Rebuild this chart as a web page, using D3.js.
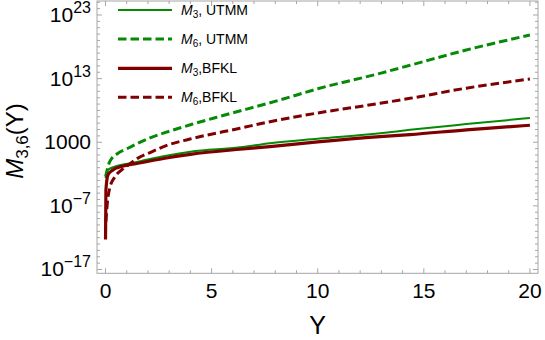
<!DOCTYPE html>
<html><head><meta charset="utf-8">
<script src="https://cdn.jsdelivr.net/npm/d3@7/dist/d3.min.js"></script>
<style>body{margin:0;background:#fff}svg{display:block;font-family:"Liberation Sans",Arial,sans-serif}</style>
</head><body><svg id="c" width="545" height="340"></svg>
<script>
// Y values (rapidity) and log10 of the moments
const yM3UTMM = [0.003, 0.12, 0.43, 0.9, 1.53, 2.8, 4.0, 6.34, 7.75, 10.0, 12.94, 14.35, 17.0, 20];
const lM3UTMM = [-2.65, -1.35, -0.83, -0.45, -0.05, 0.85, 1.5, 2.2, 2.85, 3.55, 4.41, 4.95, 5.85, 6.81];
const yM6UTMM = [0.003, 0.2, 0.59, 1.06, 1.53, 2.1, 2.8, 4.0, 5.54, 8.22, 10.0, 12.94, 14.35, 17.0, 20];
const lM6UTMM = [-2.4, -0.05, 1.27, 2.06, 2.84, 3.7, 4.5, 5.75, 7.2, 9.64, 11.4, 13.83, 15.1, 17.5, 19.85];
const yM3BFKL = [0.002, 0.02, 0.12, 0.35, 0.74, 1.53, 2.8, 4.0, 6.34, 7.75, 10.0, 12.94, 14.35, 17.0, 20];
const lM3BFKL = [-12.3, -4.5, -2.13, -1.35, -0.83, -0.3, 0.49, 1.1, 1.9, 2.3, 3.05, 3.88, 4.2, 4.95, 5.67];
const yM6BFKL = [0.02, 0.085, 0.2, 0.43, 0.82, 1.0, 1.53, 2.18, 2.8, 3.98, 6.34, 7.75, 10.0, 12.94, 14.35, 17.0, 20];
const lM6BFKL = [-9.5, -6.6, -4.2, -2.5, -1.2, -0.75, 0.5, 1.5, 2.4, 3.5, 5.2, 6.23, 7.6, 9.12, 9.9, 11.5, 12.94];
const xTicks = [0, 5, 10, 15, 20];
const yTickExps = [-17, -7, 3, 13, 23];
const seriesNames = ["UTMM", "UTMM", "BFKL", "BFKL"];
const seriesSubs = ["3", "6", "3", "6"];

const svg = d3.select("#c");
const L = 97, R = 538, T = 1, B = 273.3;
const x = d3.scaleLinear().domain([-0.4, 20.38]).range([L, R]);
const y = d3.scaleLog().domain([Math.pow(10, -17.6), Math.pow(10, 25.2)]).range([B, T]);

const green = "#058a05", red = "#7f0000", frameC = "#a6a6a6";

// frame
svg.append("rect").attr("x", L).attr("y", T).attr("width", R - L).attr("height", B - T)
  .attr("fill", "none").attr("stroke", frameC).attr("stroke-width", 1);

// x ticks (bottom & top)
const g = svg.append("g").attr("stroke", frameC).attr("stroke-width", 1);
for (let v = 0; v <= 20; v++) {
  const len = v % 5 === 0 ? 5 : 3;
  const px = x(v);
  g.append("line").attr("x1", px).attr("x2", px).attr("y1", B).attr("y2", B - len);
  g.append("line").attr("x1", px).attr("x2", px).attr("y1", T).attr("y2", T + len);
}
// y ticks (left & right), minor every decade
for (let e = -17; e <= 25; e++) {
  const major = (e + 17) % 10 === 0;
  const len = major ? 5 : 3;
  const py = y(Math.pow(10, e));
  if (py < T || py > B) continue;
  g.append("line").attr("y1", py).attr("y2", py).attr("x1", L).attr("x2", L + len);
  g.append("line").attr("y1", py).attr("y2", py).attr("x1", R).attr("x2", R - len);
}

// x tick labels
svg.append("g").selectAll("text").data(xTicks).join("text")
  .attr("x", d => x(d)).attr("y", 298).attr("text-anchor", "middle")
  .attr("font-size", 21).attr("fill", "#000").text(d => d);

// y tick labels
yTickExps.forEach(e => {
  const py = y(Math.pow(10, e)) + 7;
  const t = svg.append("text").attr("x", 91).attr("y", py).attr("text-anchor", "end")
    .attr("font-size", 21).attr("fill", "#000");
  if (e === 3) { t.text("1000"); return; }
  t.append("tspan").text("10");
  t.append("tspan").attr("dy", -9).attr("font-size", 16).text(e < 0 ? "\u2212" + (-e) : e);
});

// axis titles
svg.append("text").attr("x", x(10)).attr("y", 334).attr("text-anchor", "middle")
  .attr("font-size", 25).text("Y");
const yt = svg.append("text").attr("transform", "translate(23,141) rotate(-90)")
  .attr("text-anchor", "middle").attr("font-size", 24);
yt.append("tspan").attr("font-style", "italic").text("M");
yt.append("tspan").attr("font-size", 17).attr("dy", 5).text("3,6");
yt.append("tspan").attr("dy", -5).text("(Y)");

// curves
const line = d3.line().x(d => x(d[0])).y(d => y(Math.pow(10, d[1]))).curve(d3.curveMonotoneX);
const series = [
  { ys: yM3UTMM, ls: lM3UTMM, color: green, w: 2, dash: null },
  { ys: yM6UTMM, ls: lM6UTMM, color: green, w: 3, dash: "8.5,4" },
  { ys: yM3BFKL, ls: lM3BFKL, color: red, w: 3.2, dash: null },
  { ys: yM6BFKL, ls: lM6BFKL, color: red, w: 3, dash: "8.5,4" }
];
const clip = svg.append("clipPath").attr("id", "pc").append("rect")
  .attr("x", L).attr("y", T).attr("width", R - L).attr("height", B - T);
const pg = svg.append("g").attr("clip-path", "url(#pc)");
series.forEach(s => {
  pg.append("path").datum(s.ys.map((v, i) => [v, s.ls[i]]))
    .attr("d", line).attr("fill", "none").attr("stroke", s.color)
    .attr("stroke-width", s.w).attr("stroke-dasharray", s.dash);
});

// legend
const legY = [10, 39, 68.3, 97.3];
series.forEach((s, i) => {
  svg.append("line").attr("x1", 118).attr("x2", 172).attr("y1", legY[i]).attr("y2", legY[i])
    .attr("stroke", s.color).attr("stroke-width", s.w).attr("stroke-dasharray", s.dash);
  const t = svg.append("text").attr("x", 181).attr("y", legY[i] + 5).attr("font-size", 14);
  t.append("tspan").attr("font-style", "italic").text("M");
  t.append("tspan").attr("font-size", 10).attr("dy", 3).text(seriesSubs[i]);
  t.append("tspan").attr("dy", -3).text(seriesNames[i] === "UTMM" ? ", UTMM" : ",BFKL");
});
</script></body></html>
